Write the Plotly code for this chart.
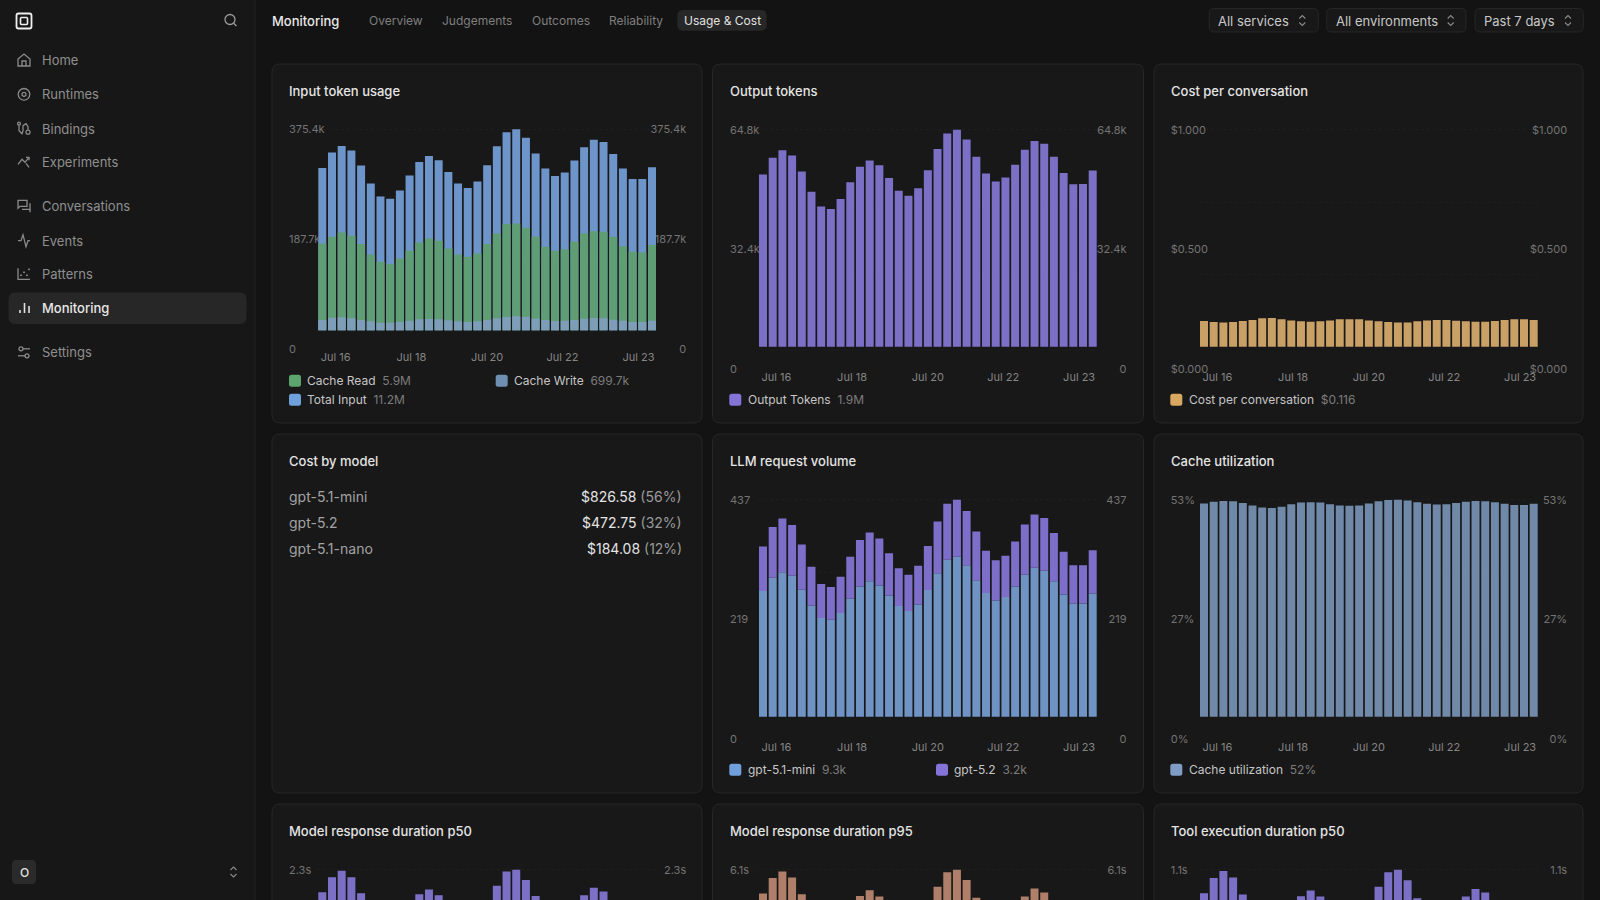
import plotly.graph_objects as go

DAY_LABELS = ["Jul 16", "Jul 18", "Jul 20", "Jul 22", "Jul 23"]

INPUT_TOTAL = [303.3,331.9,344.3,335.6,307.6,274.1,249.8,245.5,261.0,289.0,314.5,325.7,317.6,295.8,274.1,266.0,277.8,308.3,343.7,369.8,375.4,359.8,330.0,302.0,288.4,294.6,317.0,341.8,356.1,351.8,329.4,302.0,282.8,282.8,304.5]
INPUT_CACHE_READ = [162.2,174.6,182.7,176.5,161.0,141.7,128.0,123.7,134.2,148.5,164.1,171.5,167.2,152.9,141.7,137.4,143.6,161.0,180.9,198.3,199.5,191.4,174.6,156.0,148.5,151.6,165.3,180.9,185.2,184.0,174.6,157.2,146.7,145.4,159.1]
INPUT_CACHE_WRITE = [19.3,23.6,24.2,22.4,19.3,16.8,14.3,14.3,15.5,18.0,20.5,21.1,20.5,18.6,16.8,15.5,16.8,19.3,22.4,24.9,26.1,24.9,21.8,19.3,17.4,18.0,19.3,21.8,23.0,22.4,19.9,18.0,15.5,15.5,18.0]
OUTPUT_TOKENS = [51.4,56.4,58.7,57.1,52.3,46.3,41.9,41.1,44.1,49.1,53.7,55.6,54.2,50.4,46.6,45.1,47.3,52.7,59.0,63.7,64.8,61.9,56.7,51.7,49.3,50.5,54.3,58.8,61.4,60.6,56.7,51.9,48.5,48.6,52.6]
COST_PER_CONV = [.118,.114,.112,.114,.118,.123,.131,.132,.127,.121,.117,.115,.117,.121,.126,.127,.126,.121,.117,.114,.111,.112,.117,.121,.123,.123,.120,.117,.115,.115,.118,.123,.127,.127,.123]
REQ_MINI = [253,280,291,284,256,224,199,195,209,238,262,273,264,244,223,213,226,255,289,316,322,305,275,249,234,241,262,286,300,294,273,246,228,228,248]
REQ_52 = [90,102,108,102,91,78,68,66,73,84,94,98,95,85,76,73,78,89,104,113,115,109,98,85,81,83,91,101,107,106,97,86,77,77,87]
CACHE_UTIL = [52.1,52.5,52.7,52.6,52.2,51.6,51.1,51.0,51.3,51.9,52.3,52.4,52.3,51.9,51.6,51.5,51.6,52.1,52.6,52.9,53.0,52.8,52.4,52.0,51.8,51.9,52.2,52.5,52.7,52.6,52.4,52.0,51.7,51.7,52.0]
P50_MODEL = [2.06,2.22,2.29,2.22,2.05,1.85,1.70,1.65,1.75,1.90,2.04,2.09,2.03,1.90,1.75,1.70,1.78,1.95,2.13,2.28,2.30,2.19,2.02,1.88,1.78,1.82,1.97,2.03,2.11,2.07,1.95,1.85,1.72,1.72,1.85]
P95_MODEL = [5.43,5.87,6.05,5.88,5.41,4.90,4.50,4.40,4.65,5.05,5.36,5.52,5.35,5.00,4.65,4.50,4.70,5.15,5.62,6.03,6.10,5.81,5.31,5.00,4.80,4.90,5.20,5.35,5.57,5.46,5.15,4.95,4.60,4.60,4.95]
P50_TOOL = [.981,1.058,1.093,1.061,.974,.88,.81,.79,.84,.91,.965,.994,.964,.90,.84,.81,.85,.93,1.014,1.087,1.10,1.046,.955,.89,.85,.87,.93,.964,1.002,.984,.93,.88,.82,.82,.88]

MODEL_NAMES = ["gpt-5.1-mini", "gpt-5.2", "gpt-5.1-nano"]
MODEL_COST = ["$826.58", "$472.75", "$184.08"]
MODEL_SHARE = ["(56%)", "(32%)", "(12%)"]

NAV_MAIN = ["Home", "Runtimes", "Bindings", "Experiments", "Conversations", "Events", "Patterns", "Monitoring", "Settings"]
TABS = ["Overview", "Judgements", "Outcomes", "Reliability", "Usage & Cost"]
FILTERS = ["All services", "All environments", "Past 7 days"]

W, H = 1600, 900
FONT = "Inter"
PAGE = "#131313"; SIDE = "#171717"; CARD = "#181818"; EDGE = "#262626"; ACTIVE = "#272727"
fx = lambda p: p / W
fy = lambda p: 1 - p / H

shapes, annos = [], []


def rrect(x0, y0, x1, y1, r, fill=None, line=None, width=1, layer="below"):
    d = (f"M{fx(x0+r)},{fy(y0)} L{fx(x1-r)},{fy(y0)} Q{fx(x1)},{fy(y0)} {fx(x1)},{fy(y0+r)} "
         f"L{fx(x1)},{fy(y1-r)} Q{fx(x1)},{fy(y1)} {fx(x1-r)},{fy(y1)} L{fx(x0+r)},{fy(y1)} "
         f"Q{fx(x0)},{fy(y1)} {fx(x0)},{fy(y1-r)} L{fx(x0)},{fy(y0+r)} Q{fx(x0)},{fy(y0)} {fx(x0+r)},{fy(y0)} Z")
    shapes.append(dict(type="path", path=d, xref="paper", yref="paper", layer=layer,
                       fillcolor=fill or "rgba(0,0,0,0)", line=dict(color=line or "rgba(0,0,0,0)", width=width)))


def text(x, y, s, size=13, color="#ccc", anchor="left", weight=400):
    x = x - 1 if anchor == "left" else (x + 1 if anchor == "right" else x)
    annos.append(dict(x=fx(x), y=fy(y), xref="paper", yref="paper", text=s, showarrow=False, xanchor=anchor,
                      yanchor="middle", borderpad=0, font=dict(family=FONT, size=size, color=color, weight=weight)))


def polyline(pts, color, width=1.3, closed=False, layer="above"):
    d = "M" + " L".join(f"{fx(a)},{fy(b)}" for a, b in pts) + (" Z" if closed else "")
    shapes.append(dict(type="path", path=d, xref="paper", yref="paper", layer=layer, line=dict(color=color, width=width)))


def circle(cx, cy, r, color, width=1.3, fill=None):
    shapes.append(dict(type="circle", xref="paper", yref="paper", x0=fx(cx-r), x1=fx(cx+r), y0=fy(cy+r), y1=fy(cy-r),
                       layer="above", line=dict(color=color, width=width), fillcolor=fill or "rgba(0,0,0,0)"))


def chevrons(cx, cy, color="#8a8a8a"):
    polyline([(cx-3, cy-2), (cx, cy-5), (cx+3, cy-2)], color, 1.1)
    polyline([(cx-3, cy+2), (cx, cy+5), (cx+3, cy+2)], color, 1.1)


# page frame
shapes.append(dict(type="rect", xref="paper", yref="paper", x0=0, x1=fx(255), y0=0, y1=1, layer="below",
                   fillcolor=SIDE, line=dict(width=0)))
shapes.append(dict(type="line", xref="paper", yref="paper", x0=fx(255), x1=fx(255), y0=0, y1=1, layer="below",
                   line=dict(color="#222222", width=1)))

# sidebar
rrect(16.5, 13.5, 31.5, 28.5, 2, line="#f0f0f0", width=1.8, layer="above")
rrect(20.5, 17.5, 27.5, 24.5, 1, line="#f0f0f0", width=1.6, layer="above")
circle(230, 19.5, 5, "#9a9a9a", 1.3)
polyline([(233.6, 23.2), (236.5, 26)], "#9a9a9a", 1.3)
rrect(8.5, 292.5, 246.5, 324, 7, fill=ACTIVE)
NAV_Y = [60, 94.3, 128.7, 162.3, 206.3, 240.7, 274.3, 308, 352.3]
for name, y in zip(NAV_MAIN, NAV_Y):
    on = name == "Monitoring"
    text(42.3, y, name, 13, "#e8e8e8" if on else "#8f8f8f", weight=500 if on else 400)
IC = "#8a8a8a"
# Home
y = NAV_Y[0]
polyline([(18, y-1), (24, y-6), (30, y-1), (30, y+6), (18, y+6)], IC, closed=True)
polyline([(22, y+6), (22, y+1), (26, y+1), (26, y+6)], IC)
# Runtimes
y = NAV_Y[1]
circle(24, y, 5.8, IC)
circle(24, y, 2, IC)
# Bindings
y = NAV_Y[2]
polyline([(19, y-5), (19, y+2), (22, y+5), (23, y+2), (23, y-3), (26, y-5), (28, y-2), (28, y+1)], IC)
circle(28, y+3.5, 2, IC, 1.2)
circle(19, y-5, 1.5, IC, 1.2)
# Experiments
y = NAV_Y[3]
polyline([(18, y+2), (22, y-3), (25, y), (29, y-5)], IC)
polyline([(26, y+1), (29, y+5)], IC)
polyline([(26, y-5), (29, y-5), (29, y-2)], IC)
# Conversations
y = NAV_Y[4]
polyline([(18, y-6), (27, y-6), (27, y), (20, y), (18, y+2)], IC, closed=True)
polyline([(22, y+3), (30, y+3), (30, y-3)], IC)
polyline([(30, y+3), (30, y+6)], IC)
# Events
y = NAV_Y[5]
polyline([(18, y), (21, y), (23, y-6), (26, y+6), (28, y), (30, y)], IC)
# Patterns
y = NAV_Y[6]
polyline([(18, y-6), (18, y+5), (30, y+5)], IC)
for a, b in [(21, y+1), (24, y-2), (27, y+1), (29, y-5)]:
    circle(a, b, 0.6, IC, 1, IC)
# Monitoring
y = NAV_Y[7]
polyline([(20, y+5), (20, y+2)], "#e0e0e0", 1.6)
polyline([(24.5, y+5), (24.5, y-5)], "#e0e0e0", 1.6)
polyline([(29, y+5), (29, y-2)], "#e0e0e0", 1.6)
# Settings
y = NAV_Y[8]
circle(21, y-3.5, 2, IC)
polyline([(23, y-3.5), (30, y-3.5)], IC)
circle(27, y+3.5, 2, IC)
polyline([(18, y+3.5), (25, y+3.5)], IC)
# Footer
rrect(12, 860, 36, 884, 4, fill="#2a2a2a")
text(24, 872, "O", 12, "#e0e0e0", anchor="center", weight=500)
chevrons(233.5, 872)

# header
text(272.3, 20.7, "Monitoring", 13, "#e8e8e8", weight=500)
rrect(677.3, 10, 766.7, 30.7, 6, fill=ACTIVE)
for name, x in zip(TABS, [369, 441.7, 531.7, 609.3, 683.7]):
    text(x, 20.7, name, 12, "#e0e0e0" if name == "Usage & Cost" else "#7f7f7f")
for name, x0, x1, tx, cx in zip(FILTERS, [1209.3, 1326.7, 1475], [1318.3, 1466, 1583.3],
                                [1218.3, 1335.7, 1484], [1302.3, 1450.7, 1568]):
    rrect(x0, 8.5, x1, 32, 5, fill=CARD, line=EDGE)
    text(tx, 20.7, name, 13, "#c8c8c8")
    chevrons(cx, 20.5)

COLS = [(272, 702), (712.5, 1143.5), (1154, 1583)]
ROWS = [(64, 423), (434, 793), (804, 1000)]
for c in COLS:
    for r in ROWS:
        rrect(c[0], r[0], c[1], min(r[1], 915), 8, fill=CARD, line=EDGE)

TEXT_L = [289, 730, 1170.7]
LAB_R = [685.7, 1126, 1566.7]
BAR_X = [(318.3, 656), (759, 1096.7), (1200, 1537.7)]
TICKS_X = [1.38, 9.18, 17.0, 24.77, 32.6]
IDX = list(range(35))

fig = go.Figure()
layout = {}
n_chart = 0


def chart(col, row, title, vmax, labels, series, y_top=129.7, y_base=346.7, y_zero=368.7):
    global n_chart
    i = n_chart
    n_chart += 1
    off = row * 370
    yt, yb, yz = y_top + off, y_base + off, y_zero + off
    dom_t, dom_b = yt - 12, min(yz + 12, 900)
    bar = lambda p: vmax * (yb - p) / (yb - yt)
    lab = lambda p: vmax * (yz - p) / (yz - yt)
    xid, L, R, B = i + 1, 3 * i + 1, 3 * i + 2, 3 * i + 3
    domain = [fy(dom_b), fy(dom_t)]
    x0, x1 = BAR_X[col]
    tickfont = dict(family=FONT, size=11, color="#747474")
    layout[f"xaxis{xid}"] = dict(domain=[fx(x0 - .85), fx(x1 + .85)], range=[-.5, 34.5], anchor="free",
                                 position=max(fy(yz), 0), tickmode="array", tickvals=TICKS_X, ticktext=DAY_LABELS,
                                 showticklabels=row < 2, showgrid=False, zeroline=False, showline=False, ticks="",
                                 layer="below traces", tickfont=dict(family=FONT, size=11, color="#858585"),
                                 fixedrange=True)
    base_axis = dict(domain=domain, anchor="free", tickmode="array", tickvals=[0, vmax / 2, vmax], ticktext=labels,
                     range=[lab(dom_b), lab(dom_t)], ticklabelposition="inside", showgrid=False, zeroline=False,
                     showline=False, ticks="", layer="below traces", tickfont=tickfont, fixedrange=True)
    layout[f"yaxis{L}"] = dict(base_axis, side="left", position=fx(TEXT_L[col] - 4))
    layout[f"yaxis{R}"] = dict(base_axis, side="right", position=fx(LAB_R[col] + 3.5), overlaying=f"y{L}")
    layout[f"yaxis{B}"] = dict(domain=domain, anchor="free", position=fx(x0), overlaying=f"y{L}", side="left",
                               range=[bar(dom_b), bar(dom_t)], tickmode="array",
                               tickvals=[vmax / 3, 2 * vmax / 3, vmax], showticklabels=False, ticks="", showline=False,
                               zeroline=False, showgrid=True, gridcolor="#1e1e1e", griddash="dot", gridwidth=1,
                               fixedrange=True)
    for axis in (L, R):
        fig.add_trace(go.Scatter(x=[], y=[], xaxis=f"x{xid}", yaxis=f"y{axis}", showlegend=False, hoverinfo="skip"))
    for s in series:
        fig.add_trace(go.Bar(x=IDX, y=s["y"], base=s.get("base"), name=s["name"], marker=dict(color=s["color"], line=dict(width=0)),
                             xaxis=f"x{xid}", yaxis=f"y{B}", showlegend=False, hoverinfo="skip"))
    text(TEXT_L[col], 90.7 + off, title, 13, "#e4e4e4", weight=500)


def legend(col, row, x_swatch, x_text, y, label, value, color):
    off = row * 370
    rrect(x_swatch, y + off - 6, x_swatch + 12, y + off + 6, 2.5, fill=color)
    text(x_text, y + off, f'{label}  <span style="color:#7c7c7c">{value}</span>', 12, "#c6c6c6")


GREEN, SLATE, BLUE, PURPLE = "#5f9e74", "#7e9db9", "#6e95c9", "#7b70c6"
chart(0, 0, "Input token usage", 375.4, ["0", "187.7k", "375.4k"], [
    dict(name="Total Input", y=INPUT_TOTAL, color=BLUE),
    dict(name="Cache Read", y=INPUT_CACHE_READ, color=GREEN),
    dict(name="Cache Write", y=INPUT_CACHE_WRITE, color=SLATE),
], y_top=129.3, y_base=330.3, y_zero=349.3)
legend(0, 0, 289, 307.3, 380.7, "Cache Read", "5.9M", "#5da36e")
legend(0, 0, 495.7, 513.7, 380.7, "Cache Write", "699.7k", "#6f8fb0")
legend(0, 0, 289, 307.3, 399.7, "Total Input", "11.2M", "#6fa0dc")

chart(1, 0, "Output tokens", 64.8, ["0", "32.4k", "64.8k"], [dict(name="Output Tokens", y=OUTPUT_TOKENS, color=PURPLE)])
legend(1, 0, 729.3, 747.7, 399.7, "Output Tokens", "1.9M", "#8574d8")

chart(2, 0, "Cost per conversation", 1.0, ["$0.000", "$0.500", "$1.000"], [dict(name="Cost per conversation", y=COST_PER_CONV, color="#c9a066")])
legend(2, 0, 1170.3, 1188.7, 399.7, "Cost per conversation", "$0.116", "#d9a860")

chart(1, 1, "LLM request volume", 437, ["0", "219", "437"], [
    dict(name="gpt-5.1-mini", y=REQ_MINI, color="#6f94c4"),
    dict(name="gpt-5.2", y=REQ_52, base=REQ_MINI, color="#7d6fc9"),
])
legend(1, 1, 729.3, 747.7, 399.7, "gpt-5.1-mini", "9.3k", "#6fa0dc")
legend(1, 1, 936, 954, 399.7, "gpt-5.2", "3.2k", "#8574d8")

chart(2, 1, "Cache utilization", 53, ["0%", "27%", "53%"], [dict(name="Cache utilization", y=CACHE_UTIL, color="#7189a8")])
legend(2, 1, 1170.3, 1188.7, 399.7, "Cache utilization", "52%", "#7e9cc4")

chart(0, 2, "Model response duration p50", 2.3, ["0", "1.2s", "2.3s"], [dict(name="Model response duration p50", y=P50_MODEL, color=PURPLE)])
chart(1, 2, "Model response duration p95", 6.1, ["0", "3.1s", "6.1s"], [dict(name="Model response duration p95", y=P95_MODEL, color="#b07f69")])
chart(2, 2, "Tool execution duration p50", 1.1, ["0", "0.6s", "1.1s"], [dict(name="Tool execution duration p50", y=P50_TOOL, color=PURPLE)])

# Cost by model card (a plain list, no axes)
text(289, 460.7, "Cost by model", 13, "#e4e4e4", weight=500)
for name, cost, share, y in zip(MODEL_NAMES, MODEL_COST, MODEL_SHARE, [496, 522.4, 548]):
    text(289, y, name, 14, "#a3a3a3")
    text(681.6, y, f'{cost} <span style="color:#9a9a9a">{share}</span>', 14, "#e4e4e4", anchor="right")

fig.update_layout(width=W, height=H, margin=dict(l=0, r=0, t=0, b=0, pad=0), paper_bgcolor=PAGE, plot_bgcolor="rgba(0,0,0,0)",
                  barmode="overlay", bargap=.175, hovermode=False, showlegend=False, shapes=shapes, annotations=annos,
                  font=dict(family=FONT), **layout)
fig.write_html("out.html", config={"displayModeBar": False, "responsive": False},
               post_script="document.body.style.margin='0';document.body.style.overflow='hidden';document.body.style.background='#131313';")
